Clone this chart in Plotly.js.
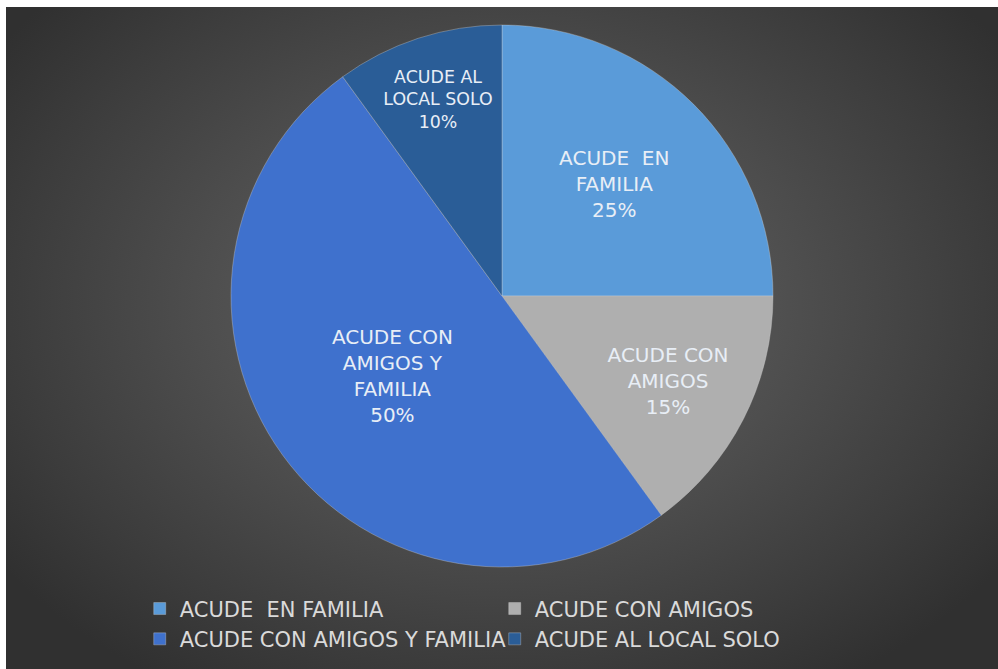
<!DOCTYPE html>
<html>
<head>
<meta charset="utf-8">
<script src="https://cdn.plot.ly/plotly-3.0.1.min.js"></script>
<style>
  html, body { margin: 0; padding: 0; background: #ffffff; }
  #wrap { position: relative; width: 998px; height: 669px; overflow: hidden; }
  #bg { position: absolute; left: 6px; top: 7px; width: 992px; height: 662px;
        background: radial-gradient(ellipse 62% 68% at 50% 45%, #5e5e5e 0%, #505050 45%, #3c3c3c 80%, #303030 100%); }
  #chart { position: absolute; left: 0; top: 0; width: 998px; height: 669px; }
</style>
</head>
<body>
<div id="wrap"><div id="bg"></div><div id="chart"></div></div>
<script>
const categories = ["ACUDE\u00a0 EN FAMILIA", "ACUDE CON AMIGOS", "ACUDE CON AMIGOS Y FAMILIA", "ACUDE AL LOCAL SOLO"];
const sliceText = ["ACUDE\u00a0 EN<br>FAMILIA", "ACUDE CON<br>AMIGOS", "ACUDE CON<br>AMIGOS Y<br>FAMILIA", "ACUDE AL<br>LOCAL SOLO"];
const values = [25, 15, 50, 10];
const colors = ["#5a9bd9", "#afafaf", "#3f71cd", "#2a5d97"];

const W = 998, H = 669;
const cx = 502, cy = 296, r = 271;

const trace = {
  type: "pie",
  labels: categories,
  values: values,
  text: sliceText,
  sort: false,
  direction: "clockwise",
  rotation: 0,
  textinfo: "text+percent",
  texttemplate: "%{text}<br>%{percent:.0%}",
  textposition: "inside",
  insidetextorientation: "horizontal",
  insidetextfont: { family: "DejaVu Sans, sans-serif", size: 20, color: "#e8eef6" },
  marker: { colors: colors, line: { color: "rgba(210,210,210,0.35)", width: 1 } },
  domain: { x: [(cx - r) / W, (cx + r) / W], y: [(H - cy - r) / H, (H - cy + r) / H] },
  hoverinfo: "label+percent"
};

const layout = {
  width: W, height: H,
  margin: { l: 0, r: 0, t: 0, b: 0 },
  paper_bgcolor: "rgba(0,0,0,0)",
  plot_bgcolor: "rgba(0,0,0,0)",
  showlegend: true,
  legend: {
    orientation: "h",
    x: 0.14, xanchor: "left",
    y: 0.1205, yanchor: "top",
    entrywidth: 310, entrywidthmode: "pixels",
    font: { family: "DejaVu Sans, sans-serif", size: 21, color: "#dadada" },
    bgcolor: "rgba(0,0,0,0)",
    itemclick: false
  }
};

Plotly.newPlot("chart", [trace], layout, { displayModeBar: false, staticPlot: true });
</script>
</body>
</html>
